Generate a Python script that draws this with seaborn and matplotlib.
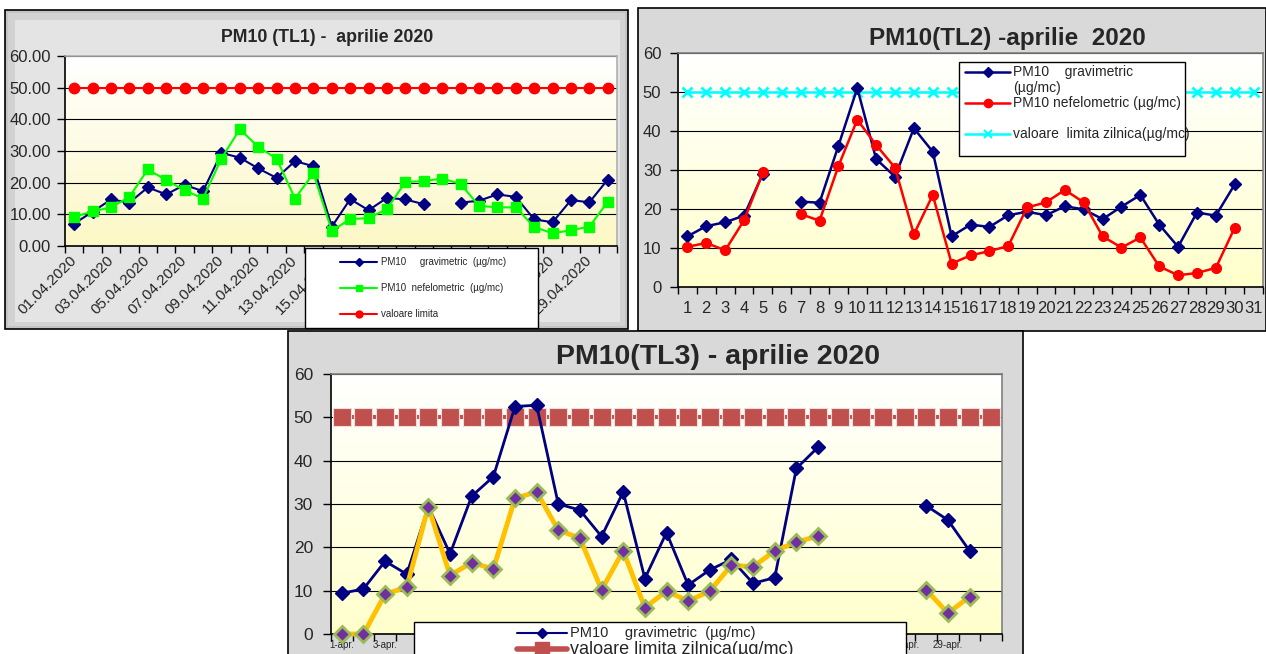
import numpy as np
import pandas as pd
import matplotlib.pyplot as plt
import seaborn as sns
from matplotlib.patches import Rectangle
from matplotlib.lines import Line2D
from matplotlib.colors import LinearSegmentedColormap

# ============================================================================
# DATA (µg/mc)
# ============================================================================

nan = np.nan

tl1_days = [f"{d:02d}.04.2020" for d in range(1, 31)]
tl1_grav = [7.1, 10.8, 14.7, 13.7, 18.5, 16.3, 19.3, 17.3, 29.4, 27.9,
            24.5, 21.5, 26.8, 25.2, 6.1, 14.8, 11.3, 15.2, 14.7, 13.2,
            nan, 13.7, 14.3, 16.3, 15.5, 8.4, 7.5, 14.5, 13.8, 21.0]
tl1_nefel = [9.2, 10.9, 12.2, 15.5, 24.2, 20.8, 17.6, 15.0, 27.6, 36.9,
             31.3, 27.6, 15.0, 22.9, 4.8, 8.5, 8.8, 11.7, 20.2, 20.5,
             21.3, 19.6, 12.7, 12.2, 12.2, 6.0, 4.0, 5.0, 6.1, 14.0]
tl1_limit = [50] * 30

tl2_days = [str(d) for d in range(1, 32)]
tl2_grav = [13.0, 15.6, 16.6, 18.3, 29.1, nan, 21.9, 21.6, 36.2, 51.0,
            32.8, 28.3, 40.7, 34.7, 13.0, 16.0, 15.4, 18.4, 19.3, 18.4,
            20.7, 19.9, 17.4, 20.6, 23.6, 16.0, 10.3, 19.1, 18.3, 26.3, nan]
tl2_nefel = [10.3, 11.3, 9.4, 17.1, 29.4, nan, 18.7, 17.0, 31.0, 42.9,
             36.4, 30.6, 13.5, 23.6, 6.0, 8.1, 9.2, 10.5, 20.4, 21.7,
             24.9, 21.7, 13.0, 10.1, 12.7, 5.3, 3.0, 3.6, 4.9, 15.2, nan]
tl2_limit = [50] * 31

tl3_days = [f"{d}-apr." for d in range(1, 31)] + [""]
tl3_grav = [9.4, 10.4, 16.8, 13.8, 29.4, 18.5, 31.8, 36.3, 52.5, 52.8,
            30.0, 28.6, 22.5, 32.8, 12.8, 23.4, 11.3, 14.8, 17.2, 11.7,
            13.0, 38.2, 43.1, nan, nan, nan, nan, 29.6, 26.3, 19.2, nan]
tl3_nefel = [0.0, 0.0, 9.2, 10.8, 29.4, 13.5, 16.5, 15.0, 31.3, 32.8,
             24.0, 22.1, 10.2, 19.2, 6.1, 9.9, 7.6, 9.9, 15.9, 15.5,
             19.2, 21.2, 22.6, nan, nan, nan, nan, 10.2, 4.8, 8.6, nan]
tl3_limit = [50] * 31

# ============================================================================
# HELPERS (layout in pixels of the 1266x654 picture)
# ============================================================================

W, H = 1266, 654

sns.set_style("ticks")
plt.rcParams['font.family'] = ['Liberation Sans', 'DejaVu Sans']

fig = plt.figure(figsize=(W / 100, H / 100), dpi=100)


def box(x0, y0, x1, y1):
    return [x0 / W, 1 - y1 / H, (x1 - x0) / W, (y1 - y0) / H]


def rect(x0, y0, x1, y1, face, edge='none', lw=1, z=-5):
    fig.add_artist(Rectangle((x0 / W, 1 - y1 / H), (x1 - x0) / W, (y1 - y0) / H,
                             transform=fig.transFigure, facecolor=face,
                             edgecolor=edge, lw=lw, zorder=z))


def ftext(x, y, s, **kw):
    fig.text(x / W, 1 - y / H, s, **kw)


def handle(x0, x1, y, **kw):
    xs = np.array([x0, (x0 + x1) / 2, x1]) / W
    ys = np.full(3, 1 - y / H)
    fig.add_artist(Line2D(xs, ys, transform=fig.transFigure, markevery=[1],
                          zorder=11, **kw))


def series(ax, values, color, marker, ms, lw, mfc=None, mec=None, mew=1.0, z=3):
    df = pd.DataFrame({'day': np.arange(len(values)), 'val': values})
    df['seg'] = df['val'].isna().cumsum()
    df = df.dropna()
    sns.lineplot(data=df, x='day', y='val', units='seg', estimator=None,
                 color=color, lw=lw, marker=marker, markersize=ms,
                 markerfacecolor=mfc or color, markeredgecolor=mec or color,
                 markeredgewidth=mew, legend=False, ax=ax, zorder=z, clip_on=False)


def setup_axes(ax, labels, step, bottom_color, border='#808080'):
    n = len(labels)
    cmap = LinearSegmentedColormap.from_list('bg', ['#ffffff', bottom_color])
    ax.imshow(np.linspace(0, 1, 200).reshape(-1, 1), cmap=cmap,
              extent=[-0.5, n - 0.5, 0, 60], aspect='auto', zorder=0)
    ax.set_xlim(-0.5, n - 0.5)
    ax.set_ylim(0, 60)
    ax.set_yticks(range(0, 61, 10))
    ax.yaxis.grid(True, color='black', lw=0.8)
    ax.set_xticks(np.arange(n)[::step])
    ax.set_xticklabels(labels[::step])
    ax.set_xticks(np.arange(n + 1) - 0.5, minor=True)
    ax.tick_params(axis='x', which='major', length=0)
    ax.tick_params(axis='x', which='minor', length=5, width=1, color='black', direction='out')
    ax.tick_params(axis='y', which='major', length=6, width=1, color='black', direction='out')
    ax.set_xlabel('')
    ax.set_ylabel('')
    for side in ['left', 'bottom']:
        ax.spines[side].set_color('black')
        ax.spines[side].set_linewidth(1.2)
    for side in ['top', 'right']:
        ax.spines[side].set_visible(True)
        ax.spines[side].set_color(border)
        ax.spines[side].set_linewidth(1.2)


# ============================================================================
# TL1
# ============================================================================

rect(5, 10, 628, 329, '#c4c4c4', edge='black', lw=1.2)
rect(8, 13, 625, 326, '#d2d2d2')
rect(15, 20, 620, 322, '#e4e4e4')

ax1 = fig.add_axes(box(65, 56, 617, 246))
series(ax1, tl1_limit, '#ff0000', 'o', 7.5, 1.5)
series(ax1, tl1_grav, '#000080', 'D', 6, 1.5)
series(ax1, tl1_nefel, '#00ff00', 's', 7.5, 1.5)
setup_axes(ax1, tl1_days, 2, '#fcf8c6', border='#b0b0b0')
ax1.yaxis.set_major_formatter('{x:.2f}')
ax1.tick_params(axis='y', labelsize=12, pad=4)
ax1.tick_params(axis='x', labelsize=11, pad=9)
for lab in ax1.get_xticklabels():
    lab.set_rotation(45)
    lab.set_ha('right')
    lab.set_va('center')
    lab.set_rotation_mode('anchor')

ftext(327, 38, 'PM10 (TL1) -  aprilie 2020', fontsize=12.8, fontweight='bold',
      ha='center', va='center')

rect(305, 248, 538, 328, 'white', edge='black', lw=1, z=10)
handle(340, 377, 262, color='#000080', lw=1.5, marker='D', ms=4)
handle(340, 377, 288, color='#00ff00', lw=1.5, marker='s', ms=5)
handle(340, 377, 314, color='#ff0000', lw=1.5, marker='o', ms=5)
ftext(381, 262, 'PM10     gravimetric  (µg/mc)', fontsize=7, va='center', zorder=11)
ftext(381, 288, 'PM10  nefelometric  (µg/mc)', fontsize=7, va='center', zorder=11)
ftext(381, 314, 'valoare limita', fontsize=7, va='center', zorder=11)

# ============================================================================
# TL2
# ============================================================================

rect(638, 8, 1266, 331, '#d9d9d9', edge='black', lw=1.2)

ax2 = fig.add_axes(box(678, 53, 1263, 287))
series(ax2, tl2_limit, '#00ffff', 'x', 7, 1.8, mew=2)
series(ax2, tl2_grav, '#000080', 'D', 6.5, 1.8)
series(ax2, tl2_nefel, '#ff0000', 'o', 7, 1.8)
setup_axes(ax2, tl2_days, 1, '#ffffcc')
ax2.tick_params(axis='y', labelsize=12, pad=6)
ax2.tick_params(axis='x', labelsize=12, pad=10)

ftext(1007, 38, 'PM10(TL2) -aprilie  2020', fontsize=17.5, fontweight='bold',
      ha='center', va='center')

rect(959, 62, 1185, 156, 'white', edge='black', lw=1, z=10)
handle(965, 1010, 72, color='#000080', lw=1.8, marker='D', ms=5)
handle(965, 1010, 103, color='#ff0000', lw=1.8, marker='o', ms=6)
handle(965, 1010, 134, color='#00ffff', lw=1.8, marker='x', ms=6, mew=1.5)
ftext(1013, 72, 'PM10    gravimetric', fontsize=10, va='center', zorder=11)
ftext(1013, 88, '(µg/mc)', fontsize=10, va='center', zorder=11)
ftext(1013, 103, 'PM10 nefelometric (µg/mc)', fontsize=10, va='center', zorder=11)
ftext(1013, 134, 'valoare  limita zilnica(µg/mc)', fontsize=10, va='center', zorder=11)

# ============================================================================
# TL3
# ============================================================================

rect(288, 331, 1023, 660, '#d9d9d9', edge='black', lw=1.2)

ax3 = fig.add_axes(box(331, 374, 1002, 634))
series(ax3, tl3_limit, '#c0504d', 's', 13.5, 3, mec='#f2dcdb', mew=0.8)
series(ax3, tl3_grav, '#000080', 'D', 7, 2)
series(ax3, tl3_nefel, '#ffc000', 'D', 8.5, 3.5, mfc='#7030a0', mec='#9bbb59', mew=2, z=4)
setup_axes(ax3, tl3_days, 2, '#ffffcc')
ax3.tick_params(axis='y', labelsize=12.5, pad=7)
ax3.tick_params(axis='x', labelsize=7, pad=4)

ftext(718, 357, 'PM10(TL3) - aprilie 2020', fontsize=20.5, fontweight='bold',
      ha='center', va='center')

rect(414, 622, 906, 662, 'white', edge='black', lw=1, z=10)
handle(517, 567, 633, color='#000080', lw=1.5, marker='D', ms=5)
handle(517, 567, 649, color='#c0504d', lw=4, marker='s', ms=10)
ftext(570, 633, 'PM10    gravimetric  (µg/mc)', fontsize=10.5, va='center', zorder=11)
ftext(570, 649, 'valoare limita zilnica(µg/mc)', fontsize=13, va='center', zorder=11)

plt.savefig('out.png', dpi=100)
